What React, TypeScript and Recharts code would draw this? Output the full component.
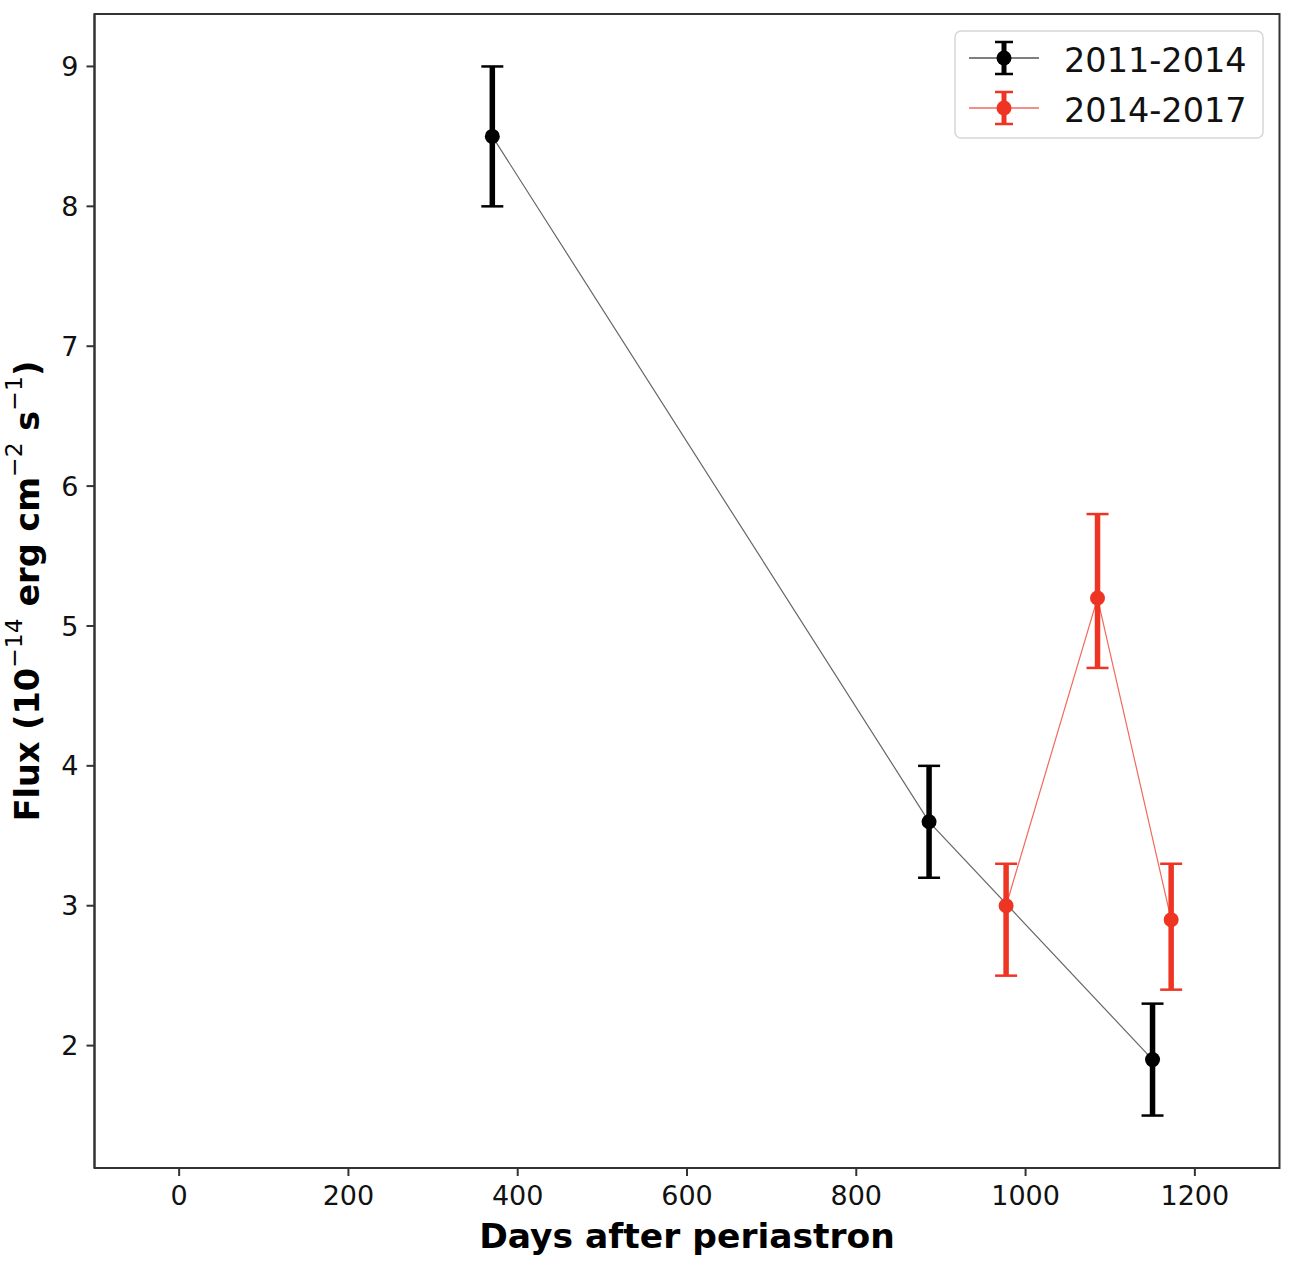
import React from 'react';
import { ComposedChart, Scatter, XAxis, YAxis, ErrorBar, Label, ReferenceArea } from 'recharts';

const daysA = [370, 886, 1150];
const fluxA = [8.5, 3.6, 1.9];
const errA = [[0.5, 0.5], [0.4, 0.4], [0.4, 0.4]];

const daysB = [977, 1085, 1172];
const fluxB = [3.0, 5.2, 2.9];
const errB = [[0.5, 0.3], [0.5, 0.6], [0.5, 0.4]];

const xTicks = [0, 200, 400, 600, 800, 1000, 1200];
const yTicks = [2, 3, 4, 5, 6, 7, 8, 9];

const labelA = '2011-2014';
const labelB = '2014-2017';

const BLACK = '#000000';
const RED = '#ee3524';
const FONT = 'DejaVu Sans';

const X_DOMAIN = [-100, 1300];
const Y_DOMAIN = [1.125, 9.375];

const dataA = daysA.map((d, i) => ({ x: d, y: fluxA[i], err: errA[i] }));
const dataB = daysB.map((d, i) => ({ x: d, y: fluxB[i], err: errB[i] }));

const dot = (color: string) => (props: any) => (
  <circle cx={props.cx} cy={props.cy} r={7.5} fill={color} />
);

const YLabel = (props: any) => {
  const vb = props.viewBox || {};
  const cx = 27;
  const cy = vb.y + vb.height / 2;
  return (
    <text
      x={cx}
      y={cy}
      transform={`rotate(-90 ${cx} ${cy})`}
      textAnchor="middle"
      dominantBaseline="central"
      fontFamily={FONT}
      fontWeight="bold"
      fontSize={33.5}
      fill="#000"
    >
      <tspan>Flux (10</tspan>
      <tspan dy={-13} fontSize={23.5} fontWeight="normal">−14</tspan>
      <tspan dy={13}> erg cm</tspan>
      <tspan dy={-13} fontSize={23.5} fontWeight="normal">−2</tspan>
      <tspan dy={13}> s</tspan>
      <tspan dy={-13} fontSize={23.5} fontWeight="normal">−1</tspan>
      <tspan dy={13}>)</tspan>
    </text>
  );
};

const LegendIcon = ({ x, y, color, lineColor }: any) => (
  <g>
    <line x1={x - 35} x2={x + 35} y1={y} y2={y} stroke={lineColor} strokeWidth={1.3} />
    <line x1={x} x2={x} y1={y - 16} y2={y + 16} stroke={color} strokeWidth={5} />
    <line x1={x - 9} x2={x + 9} y1={y - 16} y2={y - 16} stroke={color} strokeWidth={2.5} />
    <line x1={x - 9} x2={x + 9} y1={y + 16} y2={y + 16} stroke={color} strokeWidth={2.5} />
    <circle cx={x} cy={y} r={7.5} fill={color} />
  </g>
);

const LegendBox = () => (
  <svg
    width={1310}
    height={1262}
    style={{ position: 'absolute', left: 0, top: 0, pointerEvents: 'none' }}
  >
    <rect x={955} y={31} width={308} height={107} rx={6} ry={6} fill="#fff" fillOpacity={0.8} stroke="#d6d6d6" strokeWidth={1.5} />
    <LegendIcon x={1004} y={58} color={BLACK} lineColor="#555" />
    <text x={1064} y={60} dominantBaseline="central" fontFamily={FONT} fontSize={33.5} fill="#111">{labelA}</text>
    <LegendIcon x={1004} y={108} color={RED} lineColor="#f06a60" />
    <text x={1064} y={110} dominantBaseline="central" fontFamily={FONT} fontSize={33.5} fill="#111">{labelB}</text>
  </svg>
);

const tickStyle = { fontFamily: FONT, fontSize: 27, fill: '#111' };

export default function App() {
  return (
    <div style={{ position: 'absolute', left: 0, top: 0, width: 1310, height: 1262, background: '#fff' }}>
      <ComposedChart
        width={1310}
        height={1262}
        margin={{ top: 14, right: 30.5, bottom: 0, left: 0 }}
      >
        <XAxis
          type="number"
          dataKey="x"
          domain={X_DOMAIN}
          ticks={xTicks}
          allowDataOverflow
          height={94}
          tick={tickStyle}
          tickSize={8}
          tickMargin={10}
          axisLine={{ stroke: '#333', strokeWidth: 2 }}
          tickLine={{ stroke: '#333', strokeWidth: 2 }}
        >
          <Label
            value="Days after periastron"
            position="insideBottom"
            offset={14}
            style={{ fontFamily: FONT, fontWeight: 'bold', fontSize: 34.5, fill: '#000' }}
          />
        </XAxis>
        <YAxis
          type="number"
          dataKey="y"
          domain={Y_DOMAIN}
          ticks={yTicks}
          allowDataOverflow
          width={94.5}
          tick={tickStyle}
          tickSize={8}
          tickMargin={8}
          axisLine={{ stroke: '#333', strokeWidth: 2 }}
          tickLine={{ stroke: '#333', strokeWidth: 2 }}
        >
          <Label content={<YLabel />} />
        </YAxis>
        <ReferenceArea
          x1={X_DOMAIN[0]}
          x2={X_DOMAIN[1]}
          y1={Y_DOMAIN[0]}
          y2={Y_DOMAIN[1]}
          fill="none"
          stroke="#333"
          strokeWidth={2}
          ifOverflow="visible"
        />
        <Scatter
          name={labelA}
          data={dataA}
          fill={BLACK}
          line={{ stroke: '#000', strokeOpacity: 0.6, strokeWidth: 1.2 }}
          shape={dot(BLACK)}
          isAnimationActive={false}
        >
          <ErrorBar dataKey="err" direction="y" width={11} stroke={BLACK} strokeWidth={2.5} isAnimationActive={false} />
          <ErrorBar dataKey="err" direction="y" width={0} stroke={BLACK} strokeWidth={5.5} isAnimationActive={false} />
        </Scatter>
        <Scatter
          name={labelB}
          data={dataB}
          fill={RED}
          line={{ stroke: RED, strokeOpacity: 0.75, strokeWidth: 1.2 }}
          shape={dot(RED)}
          isAnimationActive={false}
        >
          <ErrorBar dataKey="err" direction="y" width={11} stroke={RED} strokeWidth={2.5} isAnimationActive={false} />
          <ErrorBar dataKey="err" direction="y" width={0} stroke={RED} strokeWidth={5.5} isAnimationActive={false} />
        </Scatter>
      </ComposedChart>
      <LegendBox />
    </div>
  );
}
